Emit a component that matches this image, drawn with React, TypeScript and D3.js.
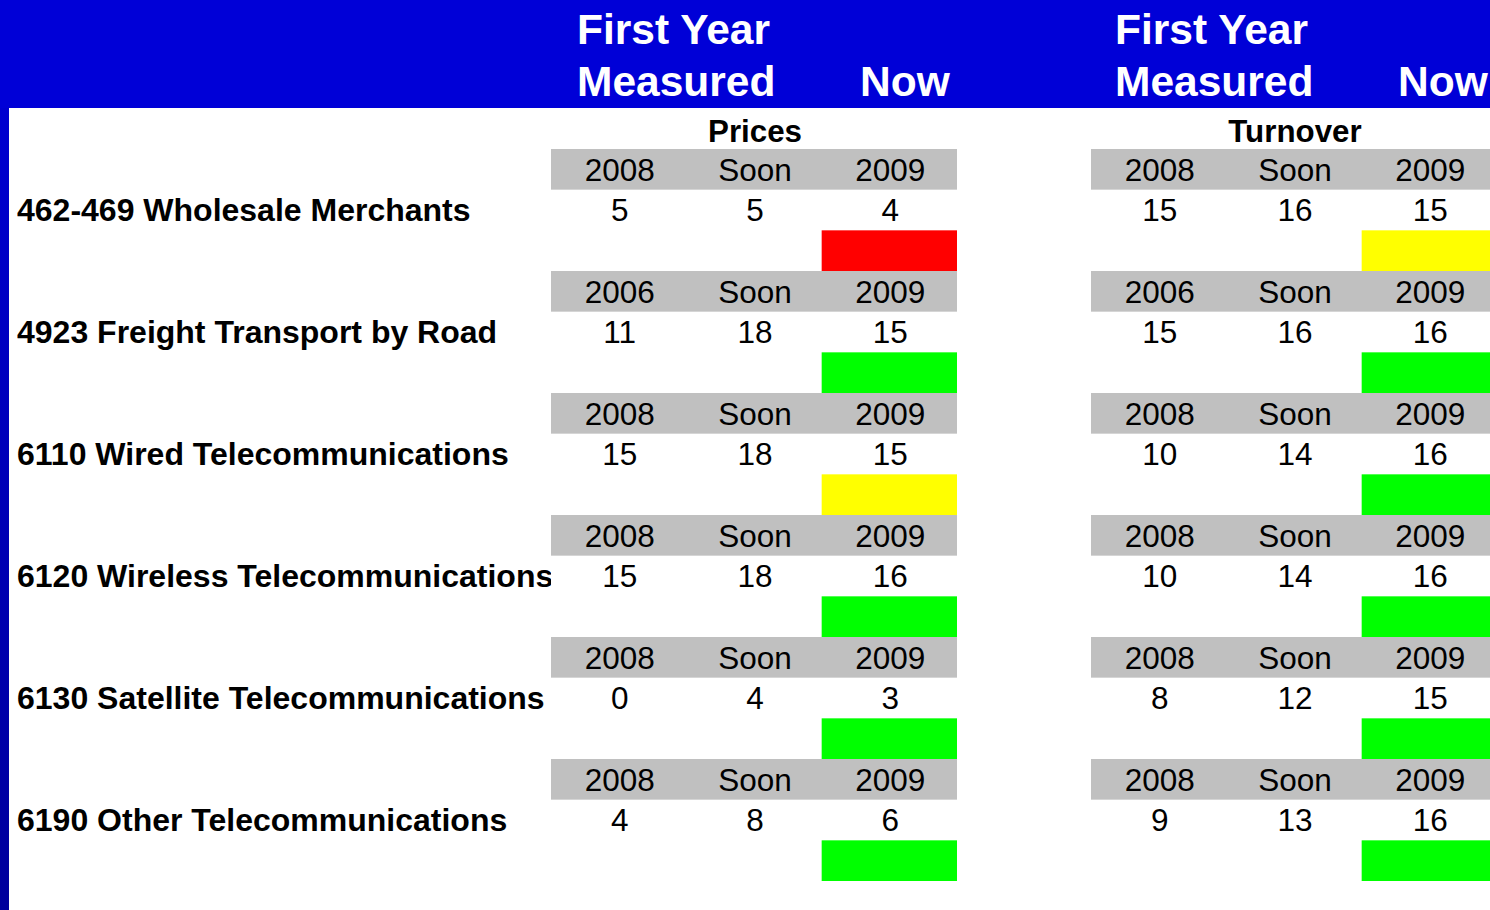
import React from "react";
import * as d3 from "d3";

const categories = [
  "462-469 Wholesale Merchants",
  "4923 Freight Transport by Road",
  "6110 Wired Telecommunications",
  "6120 Wireless Telecommunications",
  "6130 Satellite Telecommunications",
  "6190 Other Telecommunications",
];
const firstYears = ["2008", "2006", "2008", "2008", "2008", "2008"];
const soonLabel = "Soon";
const nowYear = "2009";

const pricesFirst = [5, 11, 15, 15, 0, 4];
const pricesSoon = [5, 18, 18, 18, 4, 8];
const pricesNow = [4, 15, 15, 16, 3, 6];
const pricesStatus = ["red", "green", "yellow", "green", "green", "green"];

const turnoverFirst = [15, 15, 10, 10, 8, 9];
const turnoverSoon = [16, 16, 14, 14, 12, 13];
const turnoverNow = [15, 16, 16, 16, 15, 16];
const turnoverStatus = ["yellow", "green", "green", "green", "green", "green"];

const panelTitles = ["Prices", "Turnover"];

const W = 1490;
const H = 910;
const FONT = "'Liberation Sans', Arial, Helvetica, sans-serif";
const BLUE = "#0000D7";
const GREY = "#C0C0C0";
const statusColor: Record<string, string> = {
  red: "#FF0000",
  yellow: "#FFFF00",
  green: "#00FF00",
};

export default function App() {
  const rowScale = d3
    .scaleBand<number>()
    .domain(d3.range(categories.length * 3))
    .range([149, 881])
    .paddingInner(0)
    .paddingOuter(0);
  const rh = rowScale.bandwidth();

  const panels = [
    { title: panelTitles[0], x0: 551, hx: 26, nx: 309, first: pricesFirst, soon: pricesSoon, now: pricesNow, status: pricesStatus },
    { title: panelTitles[1], x0: 1091, hx: 24, nx: 307, first: turnoverFirst, soon: turnoverSoon, now: turnoverNow, status: turnoverStatus },
  ];
  const panelWidth = 406;

  return (
    <svg
      width={W}
      height={H}
      style={{ position: "absolute", left: 0, top: 0, display: "block" }}
      fontFamily={FONT}
    >
      <defs>
        <linearGradient id="stripGrad" x1="0" y1="0" x2="0" y2="1">
          <stop offset="0%" stopColor={BLUE} />
          <stop offset="100%" stopColor="#00009C" />
        </linearGradient>
        <clipPath id="labelClip">
          <rect x={0} y={0} width={551} height={H} />
        </clipPath>
      </defs>
      <rect x={0} y={0} width={W} height={H} fill="#FFFFFF" />
      <rect x={0} y={0} width={9} height={H} fill="url(#stripGrad)" />
      <rect x={0} y={0} width={W} height={108} fill={BLUE} />

      {panels.map((p, pi) => {
        const colScale = d3
          .scaleBand<number>()
          .domain([0, 1, 2])
          .range([p.x0, p.x0 + panelWidth]);
        const cw = colScale.bandwidth();
        const cx = (i: number) => (colScale(i) as number) + cw / 2 + 1;
        return (
          <g key={pi}>
            <text x={p.x0 + p.hx} y={44} fill="#FFFFFF" fontWeight="bold" fontSize={42.5}>
              First Year
            </text>
            <text x={p.x0 + p.hx} y={96} fill="#FFFFFF" fontWeight="bold" fontSize={42.5}>
              Measured
            </text>
            <text x={p.x0 + p.nx} y={96} fill="#FFFFFF" fontWeight="bold" fontSize={42.5}>
              Now
            </text>
            <text
              x={p.x0 + panelWidth / 2 + 1}
              y={141.5}
              textAnchor="middle"
              fontWeight="bold"
              fontSize={31.3}
            >
              {p.title}
            </text>
            {categories.map((c, ri) => {
              const yh = rowScale(ri * 3) as number;
              const yv = rowScale(ri * 3 + 1) as number;
              const ys = rowScale(ri * 3 + 2) as number;
              const headers = [firstYears[ri], soonLabel, nowYear];
              const vals = [p.first[ri], p.soon[ri], p.now[ri]];
              return (
                <g key={ri}>
                  <rect x={p.x0} y={yh} width={panelWidth} height={rh} fill={GREY} />
                  {headers.map((h, i) => (
                    <text key={i} x={cx(i)} y={yh + 31.5} textAnchor="middle" fontSize={31.5}>
                      {h}
                    </text>
                  ))}
                  {vals.map((v, i) => (
                    <text key={i} x={cx(i)} y={yv + 31} textAnchor="middle" fontSize={31.5}>
                      {v}
                    </text>
                  ))}
                  <rect
                    x={colScale(2) as number}
                    y={ys}
                    width={cw}
                    height={rh}
                    fill={statusColor[p.status[ri]]}
                  />
                </g>
              );
            })}
          </g>
        );
      })}

      <g clipPath="url(#labelClip)">
        {categories.map((c, ri) => (
          <text
            key={ri}
            x={17}
            y={(rowScale(ri * 3 + 1) as number) + 31.5}
            fontWeight="bold"
            fontSize={32}
          >
            {c}
          </text>
        ))}
      </g>
    </svg>
  );
}
